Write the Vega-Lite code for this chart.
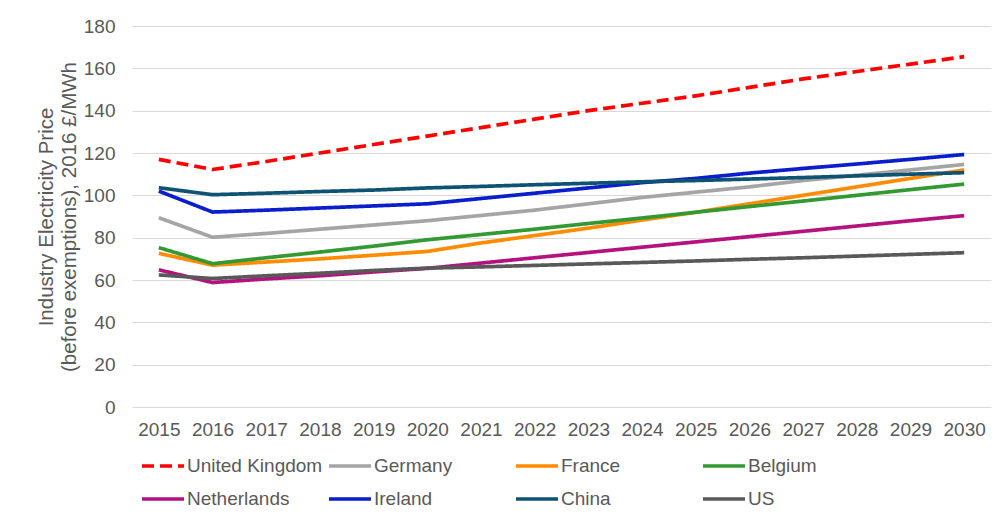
{
  "$schema": "https://vega.github.io/schema/vega-lite/v6.json",
  "autosize": {"type": "none"},
  "width": 859,
  "height": 381,
  "padding": {"left": 132, "top": 26, "right": 17, "bottom": 110},
  "background": "white",
  "config": {
    "font": "Liberation Sans",
    "view": {"stroke": null},
    "axis": {"labelFont": "Liberation Sans", "titleFont": "Liberation Sans", "labelColor": "#595959", "titleColor": "#595959", "labelFontSize": 19, "titleFontSize": 20.5, "titleFontWeight": "normal"},
    "legend": {"labelFont": "Liberation Sans", "labelColor": "#595959", "labelFontSize": 19}
  },
  "data": {
    "values": [
      {"country": "United Kingdom", "year": "2015", "value": 117},
      {"country": "United Kingdom", "year": "2016", "value": 112.2},
      {"country": "United Kingdom", "year": "2017", "value": 116},
      {"country": "United Kingdom", "year": "2018", "value": 120},
      {"country": "United Kingdom", "year": "2019", "value": 124},
      {"country": "United Kingdom", "year": "2020", "value": 128},
      {"country": "United Kingdom", "year": "2021", "value": 132},
      {"country": "United Kingdom", "year": "2022", "value": 136},
      {"country": "United Kingdom", "year": "2023", "value": 140},
      {"country": "United Kingdom", "year": "2024", "value": 143.5},
      {"country": "United Kingdom", "year": "2025", "value": 147},
      {"country": "United Kingdom", "year": "2026", "value": 151},
      {"country": "United Kingdom", "year": "2027", "value": 155},
      {"country": "United Kingdom", "year": "2028", "value": 158.5},
      {"country": "United Kingdom", "year": "2029", "value": 162},
      {"country": "United Kingdom", "year": "2030", "value": 165.5},
      {"country": "Germany", "year": "2015", "value": 89.4},
      {"country": "Germany", "year": "2016", "value": 80.2},
      {"country": "Germany", "year": "2017", "value": 82},
      {"country": "Germany", "year": "2018", "value": 84},
      {"country": "Germany", "year": "2019", "value": 86},
      {"country": "Germany", "year": "2020", "value": 88},
      {"country": "Germany", "year": "2021", "value": 90.5},
      {"country": "Germany", "year": "2022", "value": 93},
      {"country": "Germany", "year": "2023", "value": 96},
      {"country": "Germany", "year": "2024", "value": 99},
      {"country": "Germany", "year": "2025", "value": 101.5},
      {"country": "Germany", "year": "2026", "value": 104},
      {"country": "Germany", "year": "2027", "value": 107},
      {"country": "Germany", "year": "2028", "value": 109.5},
      {"country": "Germany", "year": "2029", "value": 112},
      {"country": "Germany", "year": "2030", "value": 114.6},
      {"country": "France", "year": "2015", "value": 72.6},
      {"country": "France", "year": "2016", "value": 67},
      {"country": "France", "year": "2017", "value": 68.5},
      {"country": "France", "year": "2018", "value": 70},
      {"country": "France", "year": "2019", "value": 71.7},
      {"country": "France", "year": "2020", "value": 73.5},
      {"country": "France", "year": "2021", "value": 77.5},
      {"country": "France", "year": "2022", "value": 81},
      {"country": "France", "year": "2023", "value": 84.5},
      {"country": "France", "year": "2024", "value": 88.3},
      {"country": "France", "year": "2025", "value": 92},
      {"country": "France", "year": "2026", "value": 96},
      {"country": "France", "year": "2027", "value": 100},
      {"country": "France", "year": "2028", "value": 104},
      {"country": "France", "year": "2029", "value": 108},
      {"country": "France", "year": "2030", "value": 112},
      {"country": "Belgium", "year": "2015", "value": 75.3},
      {"country": "Belgium", "year": "2016", "value": 67.7},
      {"country": "Belgium", "year": "2017", "value": 70.5},
      {"country": "Belgium", "year": "2018", "value": 73.2},
      {"country": "Belgium", "year": "2019", "value": 76},
      {"country": "Belgium", "year": "2020", "value": 79},
      {"country": "Belgium", "year": "2021", "value": 81.5},
      {"country": "Belgium", "year": "2022", "value": 84},
      {"country": "Belgium", "year": "2023", "value": 86.7},
      {"country": "Belgium", "year": "2024", "value": 89.3},
      {"country": "Belgium", "year": "2025", "value": 92},
      {"country": "Belgium", "year": "2026", "value": 94.7},
      {"country": "Belgium", "year": "2027", "value": 97.3},
      {"country": "Belgium", "year": "2028", "value": 100},
      {"country": "Belgium", "year": "2029", "value": 102.7},
      {"country": "Belgium", "year": "2030", "value": 105.3},
      {"country": "Netherlands", "year": "2015", "value": 64.8},
      {"country": "Netherlands", "year": "2016", "value": 58.8},
      {"country": "Netherlands", "year": "2017", "value": 60.5},
      {"country": "Netherlands", "year": "2018", "value": 62},
      {"country": "Netherlands", "year": "2019", "value": 63.8},
      {"country": "Netherlands", "year": "2020", "value": 65.5},
      {"country": "Netherlands", "year": "2021", "value": 68},
      {"country": "Netherlands", "year": "2022", "value": 70.5},
      {"country": "Netherlands", "year": "2023", "value": 73},
      {"country": "Netherlands", "year": "2024", "value": 75.5},
      {"country": "Netherlands", "year": "2025", "value": 78},
      {"country": "Netherlands", "year": "2026", "value": 80.5},
      {"country": "Netherlands", "year": "2027", "value": 83},
      {"country": "Netherlands", "year": "2028", "value": 85.5},
      {"country": "Netherlands", "year": "2029", "value": 88},
      {"country": "Netherlands", "year": "2030", "value": 90.4},
      {"country": "Ireland", "year": "2015", "value": 102},
      {"country": "Ireland", "year": "2016", "value": 92.1},
      {"country": "Ireland", "year": "2017", "value": 93},
      {"country": "Ireland", "year": "2018", "value": 94},
      {"country": "Ireland", "year": "2019", "value": 95},
      {"country": "Ireland", "year": "2020", "value": 96},
      {"country": "Ireland", "year": "2021", "value": 98.5},
      {"country": "Ireland", "year": "2022", "value": 101},
      {"country": "Ireland", "year": "2023", "value": 103.5},
      {"country": "Ireland", "year": "2024", "value": 106},
      {"country": "Ireland", "year": "2025", "value": 108},
      {"country": "Ireland", "year": "2026", "value": 110.5},
      {"country": "Ireland", "year": "2027", "value": 112.7},
      {"country": "Ireland", "year": "2028", "value": 114.8},
      {"country": "Ireland", "year": "2029", "value": 117},
      {"country": "Ireland", "year": "2030", "value": 119.3},
      {"country": "China", "year": "2015", "value": 103.6},
      {"country": "China", "year": "2016", "value": 100.3},
      {"country": "China", "year": "2017", "value": 101},
      {"country": "China", "year": "2018", "value": 101.8},
      {"country": "China", "year": "2019", "value": 102.5},
      {"country": "China", "year": "2020", "value": 103.5},
      {"country": "China", "year": "2021", "value": 104.2},
      {"country": "China", "year": "2022", "value": 105},
      {"country": "China", "year": "2023", "value": 105.7},
      {"country": "China", "year": "2024", "value": 106.4},
      {"country": "China", "year": "2025", "value": 107},
      {"country": "China", "year": "2026", "value": 107.7},
      {"country": "China", "year": "2027", "value": 108.4},
      {"country": "China", "year": "2028", "value": 109.2},
      {"country": "China", "year": "2029", "value": 110},
      {"country": "China", "year": "2030", "value": 110.7},
      {"country": "US", "year": "2015", "value": 62.4},
      {"country": "US", "year": "2016", "value": 60.7},
      {"country": "US", "year": "2017", "value": 62},
      {"country": "US", "year": "2018", "value": 63.2},
      {"country": "US", "year": "2019", "value": 64.5},
      {"country": "US", "year": "2020", "value": 65.6},
      {"country": "US", "year": "2021", "value": 66.2},
      {"country": "US", "year": "2022", "value": 66.9},
      {"country": "US", "year": "2023", "value": 67.6},
      {"country": "US", "year": "2024", "value": 68.3},
      {"country": "US", "year": "2025", "value": 69},
      {"country": "US", "year": "2026", "value": 69.8},
      {"country": "US", "year": "2027", "value": 70.5},
      {"country": "US", "year": "2028", "value": 71.3},
      {"country": "US", "year": "2029", "value": 72.1},
      {"country": "US", "year": "2030", "value": 72.9}
    ]
  },
  "mark": {"type": "line", "strokeWidth": 3.7, "strokeCap": "butt", "strokeJoin": "round"},
  "encoding": {
    "x": {
      "field": "year", "type": "ordinal",
      "scale": {"type": "point", "padding": 0.5},
      "axis": {"title": null, "labelAngle": 0, "ticks": false, "domain": false, "grid": false, "labelPadding": 13}
    },
    "y": {
      "field": "value", "type": "quantitative",
      "scale": {"domain": [0, 180], "nice": false},
      "axis": {
        "values": [0, 20, 40, 60, 80, 100, 120, 140, 160, 180],
        "title": ["Industry Electricity Price", "(before exemptions), 2016 £/MWh"],
        "titleLineHeight": 23,
        "titlePadding": 4,
        "ticks": false, "domain": false, "labelPadding": 17,
        "gridColor": "#D9D9D9", "gridWidth": 1.2
      }
    },
    "color": {
      "field": "country", "type": "nominal",
      "scale": {
        "domain": ["United Kingdom", "Germany", "France", "Belgium", "Netherlands", "Ireland", "China", "US"],
        "range": ["#FF0000", "#A5A5A5", "#FF8C00", "#339933", "#B4137F", "#0A1ECC", "#0E5373", "#595959"]
      },
      "legend": {
        "title": null, "orient": "none", "legendX": 8, "legendY": 417,
        "direction": "horizontal", "columns": 4, "gridAlign": "all",
        "symbolType": "stroke", "symbolSize": 1764, "symbolStrokeWidth": 3.7,
        "labelOffset": 1, "columnPadding": -2, "rowPadding": -2, "labelLimit": 300
      }
    },
    "strokeDash": {
      "field": "country", "type": "nominal",
      "scale": {
        "domain": ["United Kingdom", "Germany", "France", "Belgium", "Netherlands", "Ireland", "China", "US"],
        "range": [[12, 6], [1, 0], [1, 0], [1, 0], [1, 0], [1, 0], [1, 0], [1, 0]]
      },
      "legend": {
        "title": null, "orient": "none", "legendX": 8, "legendY": 417,
        "direction": "horizontal", "columns": 4, "gridAlign": "all",
        "symbolType": "stroke", "symbolSize": 1764, "symbolStrokeWidth": 3.7,
        "labelOffset": 1, "columnPadding": -2, "rowPadding": -2, "labelLimit": 300
      }
    }
  }
}
